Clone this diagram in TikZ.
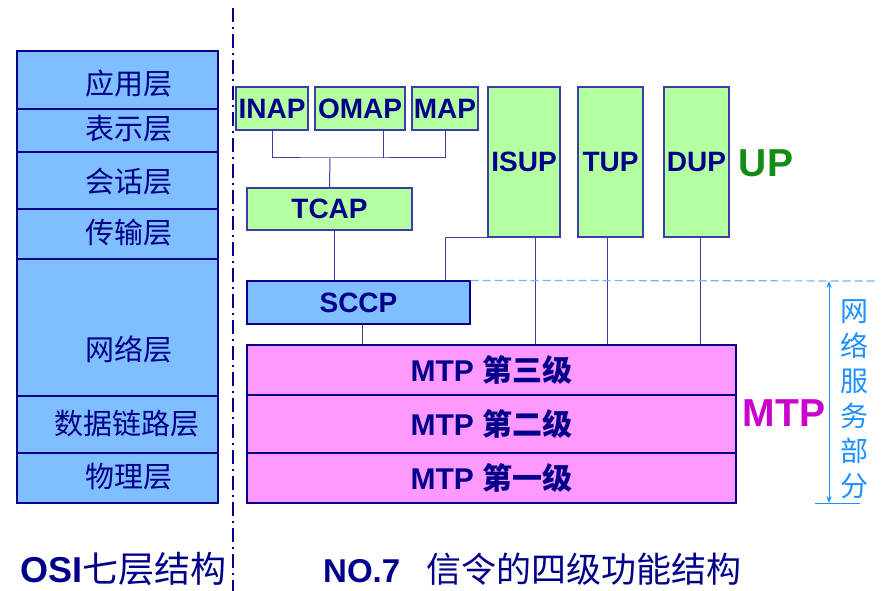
\documentclass[tikz,border=0pt]{standalone}
\usepackage{fontspec}
\setmainfont{Liberation Sans}
\newfontfamily\cjk{Noto Sans CJK SC}
\usetikzlibrary{arrows.meta}
\definecolor{navy}{RGB}{0,0,139}
\definecolor{edgeblue}{RGB}{60,60,170}
\definecolor{osiblue}{RGB}{128,191,255}
\definecolor{boxgreen}{RGB}{180,255,160}
\definecolor{boxpink}{RGB}{255,153,255}
\definecolor{netblue}{RGB}{30,144,255}
\definecolor{dashblue}{RGB}{110,180,255}
\definecolor{mtpmag}{RGB}{204,0,204}
\definecolor{upgreen}{RGB}{20,140,20}
\begin{document}
\begin{tikzpicture}[x=1pt, y=-1pt,
	osibox/.style={draw=navy, fill=osiblue, line width=1.2pt, minimum width=201pt, inner sep=0pt},
	ositext/.style={text=navy, inner sep=0pt, font=\fontsize{29}{29}\selectfont\cjk},
	upbox/.style={draw=edgeblue, fill=boxgreen, line width=1.2pt, inner sep=0pt, text=navy, font=\fontsize{28}{28}\selectfont\bfseries},
	sccpbox/.style={upbox, draw=navy, fill=osiblue},
	mtpbox/.style={upbox, draw=navy, fill=boxpink, minimum width=489pt, font=\fontsize{30}{30}\selectfont\bfseries},
	link/.style={draw=edgeblue, line width=1pt}]
	\useasboundingbox (0,0) rectangle (895,591);
	% OSI seven layers
	\node[osibox, minimum height=58pt] (app) at (117.5,80) {};
	\node[osibox, minimum height=43pt] (pres) at (117.5,130.5) {};
	\node[osibox, minimum height=57pt] (sess) at (117.5,180.5) {};
	\node[osibox, minimum height=50pt] (trans) at (117.5,234) {};
	\node[osibox, minimum height=137pt] (net) at (117.5,327.5) {};
	\node[osibox, minimum height=57pt] (link) at (117.5,424.5) {};
	\node[osibox, minimum height=50pt] (phys) at (117.5,478) {};
	\node[ositext] (tapp) at (129,83) {应用层};
	\node[ositext] (tpres) at (129,129) {表示层};
	\node[ositext] (tsess) at (129,182) {会话层};
	\node[ositext] (ttrans) at (129,233) {传输层};
	\node[ositext] (tnet) at (129,349) {网络层};
	\node[ositext] (tlink) at (127,424) {数据链路层};
	\node[ositext] (tphys) at (129,477) {物理层};
	\draw[navy, line width=2pt, dash pattern=on 14pt off 5pt on 2pt off 5pt] (233,8) -- (233,591);
	% No.7 user parts
	\node[upbox, minimum width=72pt, minimum height=43pt] (inap) at (272,108.5) {INAP};
	\node[upbox, minimum width=90pt, minimum height=43pt] (omap) at (360,108.5) {OMAP};
	\node[upbox, minimum width=66pt, minimum height=43pt] (map) at (445,108.5) {MAP};
	\node[upbox, minimum width=72pt, minimum height=150pt] (isup) at (524,162) {ISUP};
	\node[upbox, minimum width=65pt, minimum height=150pt] (tup) at (610.5,162) {TUP};
	\node[upbox, minimum width=65pt, minimum height=150pt] (dup) at (696.5,162) {DUP};
	\node[upbox, minimum width=165pt, minimum height=42pt] (tcap) at (329.5,209) {TCAP};
	\node[sccpbox, minimum width=223pt, minimum height=43pt] (sccp) at (358.5,302.5) {SCCP};
	\node[mtpbox, minimum height=50pt] (mtp3) at (491.5,370) {MTP {\cjk 第三级}};
	\node[mtpbox, minimum height=58pt] (mtp2) at (491.5,424) {MTP {\cjk 第二级}};
	\node[mtpbox, minimum height=50pt] (mtp1) at (491.5,478) {MTP {\cjk 第一级}};
	\coordinate (bus) at (330,158);
	\draw[link] (inap.south) |- (bus) -| (map.south);
	\draw[link] (bus) -- (tcap.north);
	\draw[link] ([xshift=23pt]omap.south) -- ([xshift=23pt]omap.south |- bus);
	\draw[link] ([xshift=4.5pt]tcap.south) -- ([xshift=4.5pt]tcap.south |- sccp.north);
	\draw[link] ([xshift=-12pt]isup.south) -| ([xshift=86.5pt]sccp.north);
	\draw[link] ([xshift=11pt]isup.south) -- ([xshift=11pt]isup.south |- mtp3.north);
	\draw[link] ([xshift=-3.5pt]tup.south) -- ([xshift=-3.5pt]tup.south |- mtp3.north);
	\draw[link] ([xshift=3.5pt]dup.south) -- ([xshift=3.5pt]dup.south |- mtp3.north);
	\draw[link] ([xshift=3.5pt]sccp.south) -- ([xshift=3.5pt]sccp.south |- mtp3.north);
	% network service part
	\coordinate (dashend) at (878,281);
	\coordinate (nettop) at (829,281);
	\coordinate (netbot) at (829,503);
	\draw[dashblue, line width=1.2pt, dash pattern=on 8pt off 4pt] (sccp.north east) -- (dashend);
	\draw[netblue, line width=1pt, {Stealth[length=7pt,width=5pt]}-{Stealth[length=7pt,width=5pt]}] (nettop) -- (netbot);
	\draw[netblue, line width=1pt] (815,503) -- (860,503);
	\node[text=netblue, align=center, inner sep=0pt, font=\fontsize{28}{35}\selectfont\cjk] (netpart) at (854,399) {网\\络\\服\\务\\部\\分};
	\node[text=mtpmag, inner sep=0pt, font=\fontsize{39}{39}\selectfont\bfseries] (mtplabel) at (784,413) {MTP};
	\node[text=upgreen, inner sep=0pt, font=\fontsize{39}{39}\selectfont\bfseries] (uplabel) at (766,163) {UP};
	% titles
	\node[anchor=west, text=navy, inner sep=0pt] (osititle) at (20,569) {\fontsize{36}{36}\selectfont\bfseries OSI{\mdseries\cjk\fontsize{36}{36}\selectfont 七层结构}};
	\node[anchor=west, text=navy, inner sep=0pt] (no7title) at (323,569) {\fontsize{33}{33}\selectfont\bfseries NO.7\hspace{26pt}{\mdseries\cjk\fontsize{35}{35}\selectfont 信令的四级功能结构}};
\end{tikzpicture}
\end{document}
